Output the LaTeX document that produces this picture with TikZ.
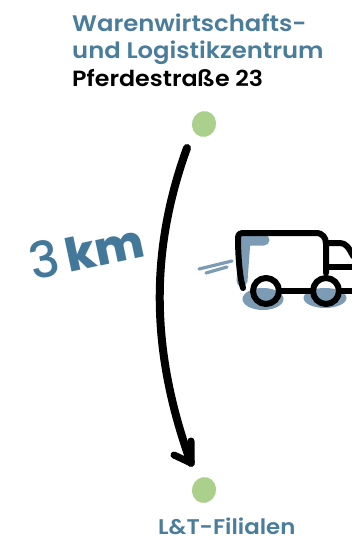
\documentclass[tikz,border=0pt]{standalone}
\usepackage{fontspec}
\newfontfamily\labfont[FakeStretch=1.08]{Poppins SemiBold}
\newfontfamily\kmfont{Poppins ExtraBold}
\newfontfamily\thinfont{Poppins Medium}
\definecolor{tealblue}{HTML}{4A7C9B}
\definecolor{kmblue}{HTML}{44789A}
\definecolor{shadowblue}{HTML}{7C9BB4}
\definecolor{dotgreen}{HTML}{ABD08C}
\usetikzlibrary{shapes.geometric}
\tikzset{
  x=1pt,y=-1pt,
  lab/.style={inner sep=0pt,anchor=base west,font=\labfont\fontsize{22.5}{22.5}\selectfont,text=tealblue},
  dotnode/.style={ellipse,fill=dotgreen,minimum width=24pt,minimum height=26pt,inner sep=0pt,rotate=-15},
  truck/.style={draw=black,line width=6pt,line cap=round,line join=round},
  shadowline/.style={draw=shadowblue,line cap=round,line join=round},
}
\begin{document}
\begin{tikzpicture}
\useasboundingbox (0,0) rectangle (351,540);
\node[lab] (t1) at (72,32) {Warenwirtschafts-};
\node[lab] (t2) at (72,59) {und Logistikzentrum};
\node[lab,text=black,font=\labfont\fontsize{22}{22}\selectfont] (t3) at (72,87) {Pferdestraße 23};
\node[lab,font=\labfont\fontsize{21.2}{21.2}\selectfont] (t4) at (158,534) {L\&T-Filialen};
\node[dotnode] (a) at (204,124) {};
\node[dotnode] (b) at (204,490) {};
% arrow
\coordinate (s) at (187,148);
\coordinate (e) at (191,463);
\coordinate (bl) at (174,455);
\coordinate (br) at (191,441);
\draw[line width=8pt,line cap=round,black] (s) .. controls (150,250) and (150,350) .. (e);
\draw[line width=7pt,line cap=round,line join=round,black] (bl) -- (e) -- (br);
% 3km
\node[rotate=12,inner sep=0pt,text=kmblue] (km) at (86,250)
  {\thinfont\fontsize{50}{50}\selectfont 3\hspace{7pt}\kmfont\fontsize{46}{46}\selectfont km};
% speed lines
\coordinate (l1) at (199,269); \coordinate (l2) at (232,261);
\coordinate (l3) at (206,273); \coordinate (l4) at (227,267);
\draw[shadowline,line width=3.2pt] (l1) -- (l2);
\draw[shadowline,line width=3.2pt] (l3) -- (l4);
% shadows
\draw[shadowline,line width=11pt] (242,281) -- (245,240) -- (264,240);
\fill[shadowblue] (263,299) ellipse (20.5 and 11);
\fill[shadowblue] (325,298) ellipse (21.5 and 10);
% truck
\draw[truck] (243,288) .. controls (239,275) and (238,250) .. (238,238)
  .. controls (238,234) and (240,233) .. (244,233) -- (316,233)
  .. controls (323,233) and (326,238) .. (326,244) -- (326,273);
\draw[truck] (328,243) -- (340,243) .. controls (346,243) and (349,248) .. (353,256);
\draw[truck] (328,267) -- (353,267);
\draw[truck] (280,291) -- (312,291);
\draw[truck] (340,291) -- (353,291);
\draw[truck] (266,291) circle (13);
\draw[truck] (326,291) circle (13);
\end{tikzpicture}
\end{document}
